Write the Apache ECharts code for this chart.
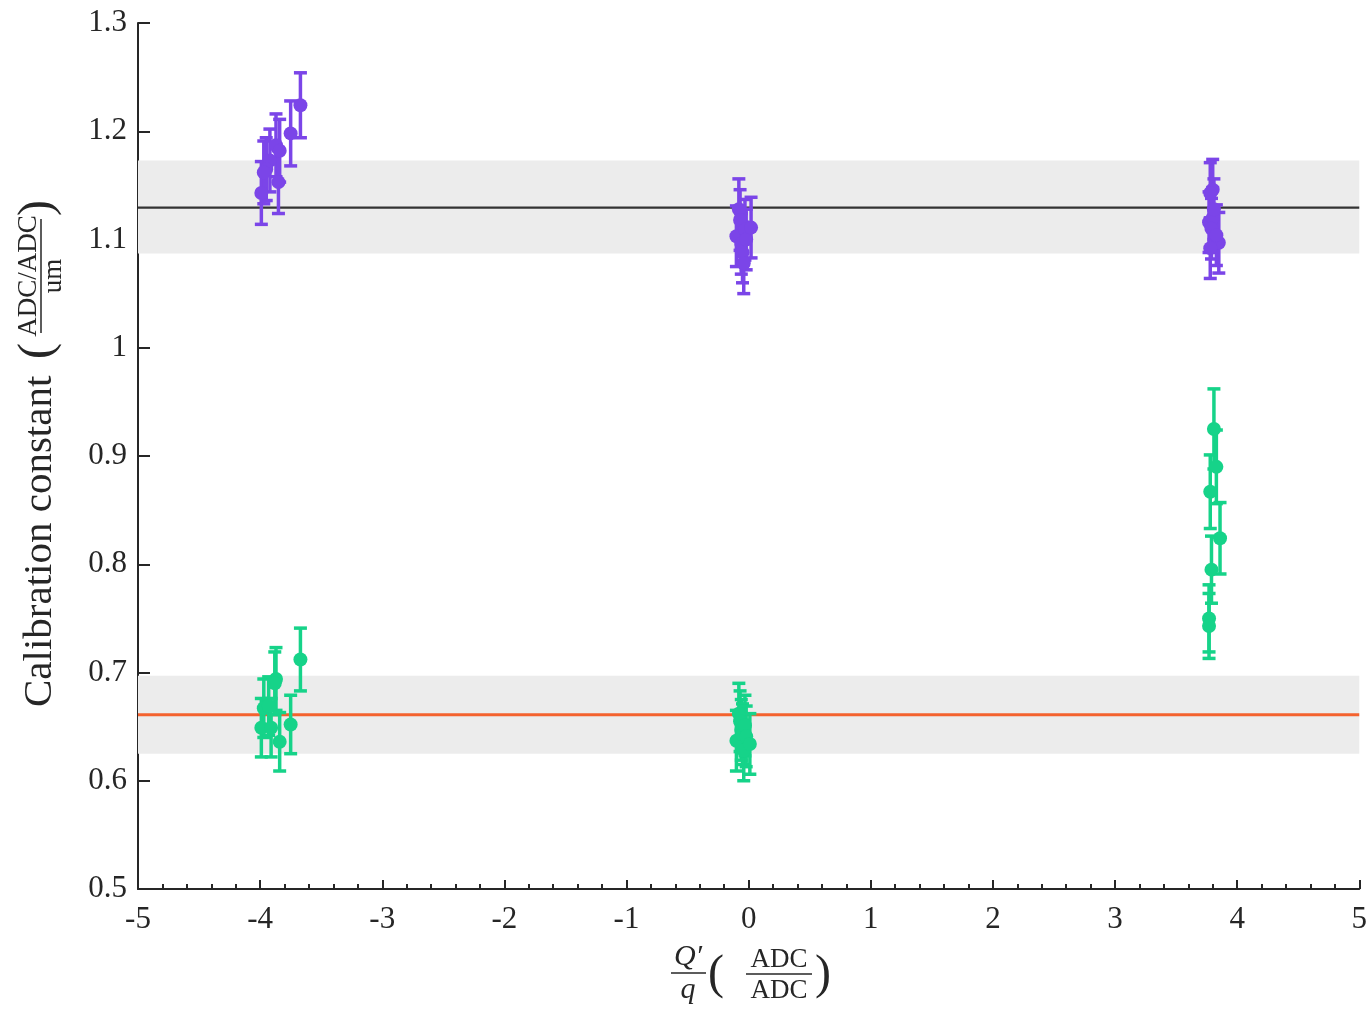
<!DOCTYPE html>
<html><head><meta charset="utf-8">
<script src="https://cdn.jsdelivr.net/npm/echarts@6/dist/echarts.min.js"></script>
<style>html,body{margin:0;padding:0;background:#fff}#c{width:1370px;height:1012px}</style>
</head><body><div id="c"></div>
<script>
// ---- data ----
const xTicks = [-5,-4,-3,-2,-1,0,1,2,3,4,5];
const yTicks = [0.5,0.6,0.7,0.8,0.9,1,1.1,1.2,1.3];

const purpleX   = [-3.67,-3.75,-3.87,-3.84,-3.92,-3.95,-3.85,-3.99,-3.97,
                   -0.10,-0.08,-0.07,-0.06,-0.05,-0.04,-0.03,-0.02,0.02,
                    3.80, 3.78, 3.77, 3.80, 3.79, 3.85, 3.78, 3.83, 3.81];
const purpleY   = [1.224,1.198,1.187,1.182,1.173,1.165,1.153,1.143,1.162,
                   1.103,1.128,1.118,1.096,1.088,1.078,1.109,1.100,1.111,
                   1.146,1.143,1.116,1.120,1.110,1.097,1.092,1.104,1.128];
const purpleErr = [0.030,0.030,0.029,0.029,0.029,0.029,0.029,0.029,0.029,
                   0.028,0.028,0.028,0.028,0.028,0.028,0.028,0.028,0.028,
                   0.028,0.028,0.028,0.028,0.028,0.028,0.028,0.028,0.028];

const greenX    = [-3.67,-3.87,-3.88,-3.75,-3.84,-3.99,-3.91,-3.97,-3.93,
                   -0.10,-0.08,-0.07,-0.06,-0.05,-0.04,-0.03,-0.02,0.01,
                    3.81, 3.83, 3.78, 3.86, 3.79, 3.77, 3.77];
const greenY    = [0.712,0.694,0.690,0.652,0.636,0.649,0.649,0.667,0.669,
                   0.637,0.662,0.655,0.647,0.643,0.628,0.651,0.641,0.634,
                   0.925,0.890,0.867,0.824,0.795,0.750,0.743];
const greenErr  = [0.029,0.029,0.029,0.027,0.027,0.027,0.027,0.027,0.027,
                   0.028,0.028,0.028,0.028,0.028,0.028,0.028,0.028,0.028,
                   0.037,0.034,0.034,0.033,0.031,0.031,0.030];

const upperBand = [1.087, 1.173];
const upperMean = 1.1295;
const lowerBand = [0.625, 0.697];
const lowerMean = 0.661;

const PURPLE = '#7b45e8', GREEN = '#16d389', ORANGE = '#f4622e', BLACK = '#333333';
const AX = '#262626';
const FONT = 'Liberation Serif';

function errSeries(color, xs, ys, es){
  return {
    type:'custom', z:3, silent:true,
    data: xs.map((x,i)=>[x, ys[i], es[i]]),
    encode:{x:0, y:1},
    renderItem(params, api){
      const x=api.value(0), y=api.value(1), e=api.value(2);
      const t=api.coord([x,y+e]), b=api.coord([x,y-e]);
      const hw=6.5, st={stroke:color, lineWidth:3.5};
      return {type:'group', children:[
        {type:'line', shape:{x1:t[0],y1:t[1],x2:b[0],y2:b[1]}, style:st},
        {type:'line', shape:{x1:t[0]-hw,y1:t[1],x2:t[0]+hw,y2:t[1]}, style:st},
        {type:'line', shape:{x1:b[0]-hw,y1:b[1],x2:b[0]+hw,y2:b[1]}, style:st}
      ]};
    }
  };
}
function scatter(color, xs, ys){
  return {type:'scatter', z:4, symbolSize:14, silent:true,
    itemStyle:{color:color, opacity:1},
    data: xs.map((x,i)=>[x, ys[i]])};
}
function meanLine(color, v, band, w){
  return {type:'line', z:2, symbol:'none', silent:true,
    lineStyle:{color:color, width:w},
    data:[[xTicks[0], v],[xTicks[xTicks.length-1], v]],
    markArea:{silent:true, itemStyle:{color:'#ececec'}, z:1,
      data:[[{yAxis:band[0]},{yAxis:band[1]}]]}
  };
}

const chart = echarts.init(document.getElementById('c'), null, {renderer:'canvas'});
const tTxt = {fontFamily:FONT, fontSize:41, fill:AX};
const fTxt = {fontFamily:FONT, fontSize:27, fill:AX};
chart.setOption({
  animation:false,
  backgroundColor:'#fff',
  grid:{left:138, right:5, top:23, bottom:123},
  xAxis:{type:'value', min:xTicks[0], max:xTicks[xTicks.length-1], interval:1,
    axisLine:{onZero:false, lineStyle:{color:AX, width:2}},
    axisTick:{inside:true, length:9, lineStyle:{color:AX, width:2}},
    minorTick:{show:true, splitNumber:5, length:5, lineStyle:{color:AX, width:2}},
    splitLine:{show:false},
    axisLabel:{color:AX, fontFamily:FONT, fontSize:31, margin:15}
  },
  yAxis:{type:'value', min:yTicks[0], max:yTicks[yTicks.length-1], interval:0.1,
    axisLine:{show:true, onZero:false, lineStyle:{color:AX, width:2}},
    axisTick:{show:true, inside:true, length:12, lineStyle:{color:AX, width:2}},
    splitLine:{show:false},
    axisLabel:{color:AX, fontFamily:FONT, fontSize:31, margin:11,
      formatter:v=>String(Math.round(v*10)/10)}
  },
  series:[
    meanLine(BLACK, upperMean, upperBand, 2.2),
    meanLine(ORANGE, lowerMean, lowerBand, 3),
    errSeries(PURPLE, purpleX, purpleY, purpleErr),
    errSeries(GREEN, greenX, greenY, greenErr),
    scatter(PURPLE, purpleX, purpleY),
    scatter(GREEN, greenX, greenY)
  ],
  graphic:[
    {type:'group', x:38, y:455, rotation:Math.PI/2, children:[
      {type:'text', x:-252, y:2, style:Object.assign({text:'Calibration constant', verticalAlign:'middle', align:'left'}, tTxt)},
      {type:'text', x:104, y:0, style:Object.assign({text:'(', verticalAlign:'middle', align:'center'}, tTxt, {fontSize:48})},
      {type:'text', x:179, y:-9, style:Object.assign({text:'ADC/ADC', verticalAlign:'middle', align:'center'}, fTxt)},
      {type:'line', shape:{x1:122,y1:3,x2:236,y2:3}, style:{stroke:AX, lineWidth:1.5}},
      {type:'text', x:179, y:16, style:Object.assign({text:'um', verticalAlign:'middle', align:'center'}, fTxt)},
      {type:'text', x:247, y:0, style:Object.assign({text:')', verticalAlign:'middle', align:'center'}, tTxt, {fontSize:48})}
    ]},
    {type:'text', x:688, y:957, style:Object.assign({text:'Q\u2032', verticalAlign:'middle', align:'center', fontStyle:'italic'}, fTxt, {fontSize:30})},
    {type:'line', shape:{x1:671,y1:973,x2:706,y2:973}, style:{stroke:AX, lineWidth:1.5}},
    {type:'text', x:688, y:990, style:Object.assign({text:'q', verticalAlign:'middle', align:'center', fontStyle:'italic'}, fTxt, {fontSize:30})},
    {type:'text', x:716, y:975, style:Object.assign({text:'(', verticalAlign:'middle', align:'center'}, tTxt, {fontSize:48})},
    {type:'text', x:779, y:960, style:Object.assign({text:'ADC', verticalAlign:'middle', align:'center'}, fTxt)},
    {type:'line', shape:{x1:746,y1:974,x2:812,y2:974}, style:{stroke:AX, lineWidth:1.5}},
    {type:'text', x:779, y:991, style:Object.assign({text:'ADC', verticalAlign:'middle', align:'center'}, fTxt)},
    {type:'text', x:823, y:975, style:Object.assign({text:')', verticalAlign:'middle', align:'center'}, tTxt, {fontSize:48})}
  ]
});
</script>
</body></html>
